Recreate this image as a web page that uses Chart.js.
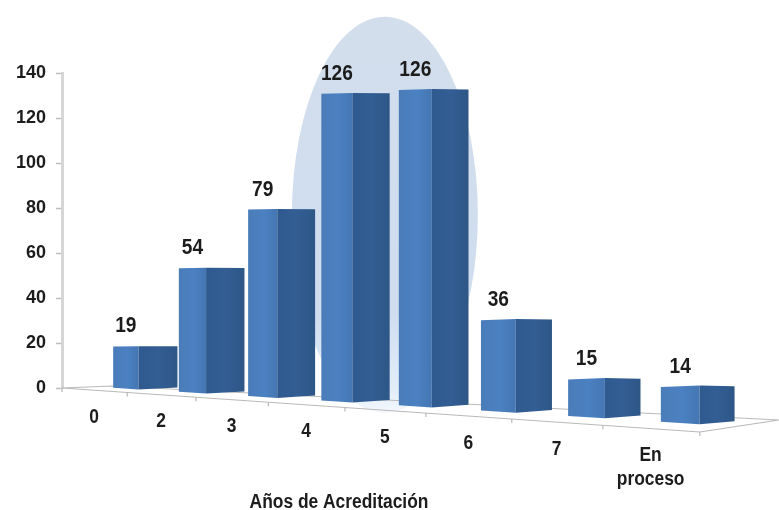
<!DOCTYPE html>
<html>
<head>
<meta charset="utf-8">
<title>Años de Acreditación</title>
<script src="https://cdn.jsdelivr.net/npm/chart.js@4/dist/chart.umd.js"></script>
<style>
html,body{margin:0;padding:0;background:#fff;}
#wrap{width:779px;height:510px;}
</style>
</head>
<body>
<div id="wrap"><canvas id="acreditacion"></canvas></div>
<script>
// DATA
const categories = ["0", "2", "3", "4", "5", "6", "7", ["En", "proceso"]];
const carreras = [19, 54, 79, 126, 126, 36, 15, 14];
const yTicks = [0, 20, 40, 60, 80, 100, 120, 140];
const axisTitle = "Años de Acreditación";

const fontFamily = '"Liberation Sans",Arial,sans-serif';
const textColor = "#1c1c1c";

// PERSPECTIVE
// the x scale is flat, this bends its bands onto the receding floor
const persp = -0.02535;
const floorSlope = 0.069;

function bandOf(chart){
let area = chart.chartArea;
return (area.right - area.left) / categories.length;
}

function floorX(chart, t){
return chart.chartArea.left + bandOf(chart) * 0.797 * t / (1 + persp * t);
}

function floorY(chart, x){
return chart.scales.y.getPixelForValue(0) + (x - chart.chartArea.left) * floorSlope;
}

// bold text squeezed sideways, no narrow font on the machine
function narrowText(ctx, text, x, y, size, squeeze){
ctx.save();
ctx.font = "bold " + size + "px " + fontFamily;
ctx.textAlign = "center";
ctx.textBaseline = "middle";
ctx.fillStyle = textColor;
ctx.translate(x, y);
ctx.scale(squeeze, 1);
ctx.fillText(text, 0, 0);
ctx.restore();
}

// FLOOR AND OVAL (behind the bars)
function drawFloor(chart){
let ctx = chart.ctx;
let area = chart.chartArea;
let zero = chart.scales.y.getPixelForValue(0);
let endX = floorX(chart, categories.length);
let endY = floorY(chart, endX);

ctx.save();
ctx.strokeStyle = "#b9b9b9";
ctx.lineWidth = 1.2;

ctx.beginPath();
ctx.moveTo(area.left, zero);
ctx.lineTo(endX, endY);
ctx.lineTo(endX + 79, endY - 12);
ctx.lineTo(area.left + 50, zero - 2);
ctx.closePath();
ctx.stroke();

for(let t = 0; t <= categories.length; t++){
let x = floorX(chart, t);
let y = floorY(chart, x);
ctx.beginPath();
ctx.moveTo(x, y);
ctx.lineTo(x, y + 4);
ctx.stroke();
}
ctx.restore();
}

function drawOval(chart){
let ctx = chart.ctx;
let y = chart.scales.y;
let top = y.getPixelForValue(165);
let bottom = y.getPixelForValue(-11);

let fill = ctx.createLinearGradient(0, top, 0, bottom);
fill.addColorStop(0, "#d3deec");
fill.addColorStop(0.75, "#cfddef");
fill.addColorStop(0.95, "#e4eefa");
fill.addColorStop(1, "#f4f8fd");

ctx.save();
ctx.fillStyle = fill;
ctx.beginPath();
ctx.ellipse(floorX(chart, 4.5), (top + bottom) / 2, 93, (bottom - top) / 2, 0, 0, Math.PI * 2);
ctx.fill();
ctx.restore();
}

// 3D BARS
function drawBar(chart, bar, i){
let ctx = chart.ctx;
let zero = chart.scales.y.getPixelForValue(0);
let c = (bar.x - chart.chartArea.left) / bandOf(chart);

let height = (zero - bar.y) / (1 + persp * c) * 0.995;

let midX = floorX(chart, c) + 44 + 0.65 * c;
let midBase = floorY(chart, midX) - 3.6 - 0.55 * c;
let midTop = midBase - height;

let frontW = 24.4 + 1.9 * c;
let sideW = 39.2 - 0.55 * c;
let leftX = midX - frontW;
let rightX = midX + sideW;
let leftBase = midBase - frontW * 0.065;
let rightBase = midBase - 1.9 - 0.15 * c;
let leftTop = midTop + 0.2 * c;
let rightTop = midTop + 0.1 * c;

// front face
let front = ctx.createLinearGradient(leftX, 0, midX, 0);
front.addColorStop(0, "#4a7cb8");
front.addColorStop(0.55, "#4b81c2");
front.addColorStop(1, "#4476b2");
ctx.fillStyle = front;
ctx.beginPath();
ctx.moveTo(leftX, leftBase);
ctx.lineTo(leftX, leftTop);
ctx.lineTo(midX, midTop);
ctx.lineTo(midX, midBase);
ctx.closePath();
ctx.fill();

// side face
let side = ctx.createLinearGradient(midX, 0, rightX, 0);
side.addColorStop(0, "#2f5a90");
side.addColorStop(0.5, "#335e94");
side.addColorStop(1, "#2e5787");
ctx.fillStyle = side;
ctx.beginPath();
ctx.moveTo(midX, midBase);
ctx.lineTo(midX, midTop);
ctx.lineTo(rightX, rightTop);
ctx.lineTo(rightX, rightBase);
ctx.closePath();
ctx.fill();

// value over the front face
narrowText(ctx, String(carreras[i]), (leftX + midX) / 2, leftTop - 20, 22, 0.87);
}

// CATEGORY LABELS
function drawLabels(chart){
let ctx = chart.ctx;

categories.forEach((label, i)=>{
let x = floorX(chart, i + 0.5);
let y = floorY(chart, x) + 27;
let lines = Array.isArray(label) ? label : [label];
lines.forEach((line, n)=>{
narrowText(ctx, line, x, y + n * 24, 20, 0.87);
});
});

narrowText(ctx, axisTitle, 339, 502, 20, 0.87);
}

const bars3d = {
id: "bars3d",
beforeDatasetsDraw(chart){
drawOval(chart);
drawFloor(chart);
},
beforeDatasetDraw(chart, args){
args.meta.data.forEach((bar, i)=>drawBar(chart, bar, i));
return false;
},
afterDraw(chart){
drawLabels(chart);
}
};

// CHART
new Chart(document.getElementById("acreditacion"),{

type:"bar",

data:{
labels:categories,
datasets:[{
label:"Carreras",
data:carreras,
backgroundColor:"#4a7ebb"
}]
},

options:{
responsive:true,
maintainAspectRatio:false,
animation:false,
layout:{
padding:{left:0,top:73,right:79,bottom:122}
},
plugins:{
legend:{display:false},
tooltip:{enabled:false}
},
scales:{
x:{
grid:{display:false},
border:{display:false},
ticks:{display:false},
afterFit(scale){
scale.height = 0;
}
},
y:{
min:0,
max:140,
afterBuildTicks(scale){
scale.ticks = yTicks.map(v=>({value:v}));
},
afterFit(scale){
scale.width = 62;
},
grid:{
drawOnChartArea:false,
drawTicks:true,
tickLength:6,
tickWidth:1.5,
color:"#bdbdbd"
},
border:{
display:true,
color:"#d6d6d6",
width:3
},
ticks:{
padding:10,
color:textColor,
font:{family:fontFamily,size:18,weight:"bold"}
}
}
}
},

plugins:[bars3d]

});
</script>
</body>
</html>
